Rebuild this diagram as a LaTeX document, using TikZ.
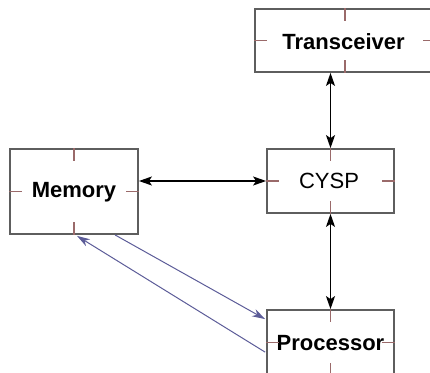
\documentclass[tikz,border=0pt]{standalone}
\usepackage{fontspec}
\setmainfont{Liberation Sans}
\usetikzlibrary{arrows.meta,calc}
\definecolor{boxgray}{HTML}{5E5E5E}
\definecolor{tickred}{HTML}{9A6A6A}
\definecolor{linkblue}{HTML}{5C5C98}
\tikzset{
  block/.style={draw=boxgray, line width=1.8pt, rectangle, inner sep=0pt,
    font=\fontsize{21.5}{24}\selectfont},
  ticks/.style={tickred, line width=1.2pt},
  bus/.style={black, line width=1.4pt,
    {Stealth[length=13pt,width=9pt,inset=3pt]}-{Stealth[length=13pt,width=9pt,inset=3pt]}},
  link/.style={linkblue, line width=1pt,
    -{Stealth[length=13pt,width=8pt,inset=4pt]}},
}
\begin{document}
\begin{tikzpicture}[x=1pt,y=-1pt]
\useasboundingbox (0,0) rectangle (430,372);
% component blocks
\node[block, minimum width=180pt, minimum height=63pt] (trans) at (345,40.5) {};
\node[block, minimum width=128pt, minimum height=85pt] (mem) at (74,191.5) {};
\node[block, minimum width=127pt, minimum height=64pt] (cysp) at (330.5,181) {};
\node[block, minimum width=127pt, minimum height=65pt] (proc) at (330.5,342.5) {};
% labels
\node[font=\fontsize{22}{24}\selectfont\bfseries] (tl) at (343.5,42) {Transceiver};
\node[font=\fontsize{22}{24}\selectfont\bfseries] (ml) at (74,192) {Memory};
\node[font=\fontsize{22}{24}\selectfont] (cl) at (329,181) {CYSP};
\node[font=\fontsize{22}{24}\selectfont\bfseries] (pl) at (330.5,343) {Processor};
% centre ticks on each side of every block
\foreach \b in {trans,mem,cysp,proc}{
  \draw[ticks] (\b.north) -- ++(0,13);
  \draw[ticks] (\b.south) -- ++(0,-13);
  \draw[ticks] (\b.west) -- ++(13,0);
  \draw[ticks] (\b.east) -- ++(-13,0);
}
% black bidirectional buses
\draw[bus] (cysp.north) -- (cysp.north |- trans.south);
\draw[bus] (cysp.south) -- (cysp.south |- proc.north);
\draw[bus] (cysp.west) -- (cysp.west -| mem.east);
% memory <-> processor links
\coordinate (m1) at ($(mem.south)+(41,0)$);
\coordinate (m2) at ($(mem.south)+(3,1)$);
\coordinate (p1) at ($(proc.north west)+(-1,10)$);
\coordinate (p2) at ($(proc.north west)+(-1,43)$);
\draw[link] (m1) -- (p1);
\draw[link] (p2) -- (m2);
\end{tikzpicture}
\end{document}
